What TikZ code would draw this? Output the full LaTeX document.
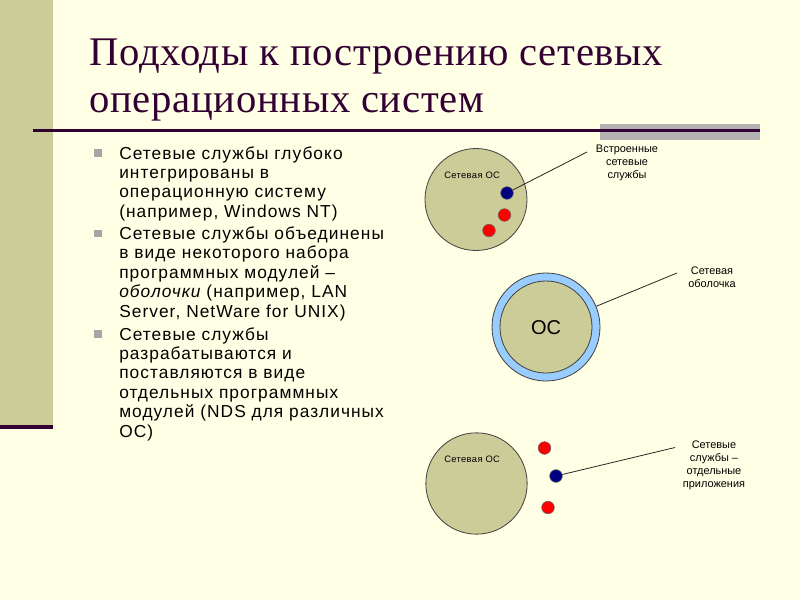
\documentclass[tikz,border=0pt]{standalone}
\usepackage{fontspec}
\setmainfont{Liberation Serif}
\setsansfont{Liberation Sans}
\definecolor{bgc}{HTML}{FFFFE5}
\definecolor{olive}{HTML}{CCCC99}
\definecolor{ttl}{HTML}{330033}
\definecolor{grayb}{HTML}{B2B2B2}
\definecolor{bsqc}{HTML}{A6A6A6}
\definecolor{ringc}{HTML}{99CCFF}
\definecolor{dotblue}{HTML}{000080}
\definecolor{dotred}{HTML}{FF0000}
\tikzset{
  titletext/.style={anchor=base west, inner sep=0pt, text=ttl, font=\fontsize{30.5pt}{35pt}\selectfont\addfontfeature{LetterSpace=1.7}},
  btext/.style={anchor=base west, inner sep=0pt, font=\sffamily\fontsize{13pt}{14pt}\selectfont\addfontfeature{LetterSpace=6}},
  bsq/.style={fill=bsqc, minimum size=5.6pt, inner sep=0pt, draw=none},
  oscircle/.style={circle, fill=olive, draw=black!75, line width=0.6pt, inner sep=0pt},
  ringcircle/.style={circle, fill=ringc, draw=black!75, line width=0.6pt, inner sep=0pt},
  sdot/.style={circle, draw=black!60, line width=0.4pt, inner sep=0pt, minimum size=9.5pt},
  small/.style={inner sep=0pt, font=\sffamily\fontsize{8.2pt}{9.75pt}\selectfont, align=center},
  ostext/.style={anchor=west, inner sep=0pt, font=\sffamily\fontsize{7pt}{8pt}\selectfont\addfontfeature{LetterSpace=4}},
  leader/.style={draw=black!85, line width=0.6pt}
}
\begin{document}
\begin{tikzpicture}[x=0.75pt,y=-0.75pt]
\useasboundingbox (0,0) rectangle (800,600);
\fill[bgc] (0,0) rectangle (800,600);
\fill[olive] (0,0) rectangle (53,425);
\fill[ttl] (0,425) rectangle (53,429);
\fill[grayb] (600,124) rectangle (760,140);
\draw[ttl, line width=2.2pt] (33,130.5) -- (760,130.5);
% title
\node[titletext] (t1) at (89,65) {Подходы к построению сетевых};
\node[titletext] (t2) at (89,112) {операционных систем};
% bullets
\node[bsq] (q1) at (98,153) {};
\node[btext] (l1) at (119,159) {Сетевые службы глубоко};
\node[btext] (l2) at (119,178.4) {интегрированы в};
\node[btext] (l3) at (119,197.8) {операционную систему};
\node[btext] (l4) at (119,217.2) {(например, Windows NT)};
\node[bsq] (q2) at (98,233.5) {};
\node[btext] (l5) at (119,239.5) {Сетевые службы объединены};
\node[btext] (l6) at (119,258.9) {в виде некоторого набора};
\node[btext] (l7) at (119,278.3) {программных модулей –};
\node[btext] (l8) at (119,297.7) {\itshape оболочки\upshape{} (например, LAN};
\node[btext] (l9) at (119,317.1) {Server, NetWare for UNIX)};
\node[bsq] (q3) at (98,334) {};
\node[btext] (l10) at (119,340) {Сетевые службы};
\node[btext] (l11) at (119,359.4) {разрабатываются и};
\node[btext] (l12) at (119,378.8) {поставляются в виде};
\node[btext] (l13) at (119,398.2) {отдельных программных};
\node[btext] (l14) at (119,417.6) {модулей (NDS для различных};
\node[btext] (l15) at (119,437) {ОС)};
% diagram 1
\node[oscircle, minimum size=76.5pt] (os1) at (476,199.5) {};
\node[ostext] (os1l) at (444,175) {Сетевая ОС};
\node[sdot, fill=dotblue] (b1) at (507,193) {};
\node[sdot, fill=dotred] (r1) at (504.5,215) {};
\node[sdot, fill=dotred] (r2) at (489,230.5) {};
\coordinate (c1) at (587,152);
\draw[leader] (b1) -- (c1);
\node[small] (lab1) at (627,163) {Встроенные\\сетевые\\службы};
% diagram 2
\node[ringcircle, minimum size=81pt] (ring) at (546,327) {};
\node[oscircle, minimum size=69pt] (os2) at (546,327) {};
\node[inner sep=0pt, font=\sffamily\fontsize{15pt}{16pt}\selectfont] (os2l) at (546,327.5) {ОС};
\coordinate (c2) at (677,273);
\draw[leader] (ring) -- (c2);
\node[small] (lab2) at (712,277) {Сетевая\\оболочка};
% diagram 3
\node[oscircle, minimum size=76pt] (os3) at (476.5,483.5) {};
\node[ostext] (os3l) at (444,459) {Сетевая ОС};
\node[sdot, fill=dotred] (r3) at (544.5,448) {};
\node[sdot, fill=dotblue] (b3) at (556,476) {};
\node[sdot, fill=dotred] (r4) at (548,507.5) {};
\coordinate (c3) at (675,447.5);
\draw[leader] (b3) -- (c3);
\node[small] (lab3) at (714,465) {Сетевые\\службы –\\отдельные\\приложения};
\end{tikzpicture}
\end{document}
